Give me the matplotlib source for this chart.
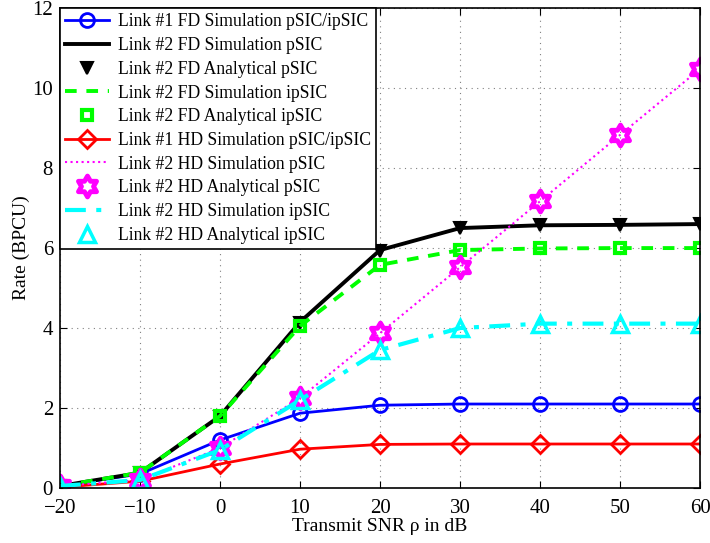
import numpy as np
import matplotlib
matplotlib.use('Agg')
import matplotlib.pyplot as plt
from matplotlib.path import Path

plt.rcParams['font.family'] = ['Liberation Serif', 'DejaVu Serif']

# Transmit SNR (dB)
snr = [-20, -10, 0, 10, 20, 30, 40, 50, 60]

# Rates in BPCU
link1_fd = [0.05, 0.35, 1.2, 1.87, 2.07, 2.1, 2.1, 2.1, 2.1]
link2_fd_psic_sim = [0.05, 0.38, 1.8, 4.15, 5.95, 6.5, 6.57, 6.58, 6.6]
link2_fd_psic_ana = [0.05, 0.38, 1.78, 4.12, 5.93, 6.5, 6.57, 6.58, 6.6]
link2_fd_ipsic_sim = [0.05, 0.38, 1.8, 4.05, 5.58, 5.95, 5.99, 6.0, 6.0]
link2_fd_ipsic_ana = [0.05, 0.38, 1.8, 4.05, 5.58, 5.95, 5.99, 6.0, 6.0]
link1_hd = [0.02, 0.17, 0.6, 0.97, 1.09, 1.1, 1.1, 1.1, 1.1]
link2_hd_psic_sim = [0.05, 0.2, 1.0, 2.25, 3.87, 5.52, 7.17, 8.83, 10.48]
link2_hd_psic_ana = [0.05, 0.2, 1.0, 2.25, 3.87, 5.52, 7.17, 8.83, 10.48]
link2_hd_ipsic_sim = [0.05, 0.2, 0.95, 2.2, 3.45, 4.0, 4.11, 4.11, 4.11]
link2_hd_ipsic_ana = [0.05, 0.2, 0.95, 2.2, 3.45, 4.0, 4.11, 4.11, 4.11]

# six-pointed star (MATLAB style hexagram)
ang = np.pi / 2 + np.arange(12) * np.pi / 6
rad = np.where(np.arange(12) % 2 == 0, 1.0, 1 / np.sqrt(3))
verts = np.column_stack([rad * np.cos(ang), rad * np.sin(ang)])
verts = np.vstack([verts, verts[:1]])
hexagram = Path(verts, [Path.MOVETO] + [Path.LINETO] * 11 + [Path.CLOSEPOLY])

fig = plt.figure(figsize=(7.1, 5.43), dpi=100)
ax = fig.add_axes([0.0845, 0.1013, 0.9015, 0.8837])

magenta = '#ff00ff'
cyan = '#00ffff'
green = '#00ff00'

ax.plot(snr, link1_fd, '-', color='blue', lw=2, marker='o', ms=10,
        mfc='none', mew=2, label='Link #1 FD Simulation pSIC/ipSIC')
ax.plot(snr, link2_fd_psic_sim, '-', color='black', lw=2.8,
        label='Link #2 FD Simulation pSIC')
ax.plot(snr, link2_fd_psic_ana, ls='none', color='black', marker='v', ms=9,
        mfc='black', mew=1.5, label='Link #2 FD Analytical pSIC')
ax.plot(snr, link2_fd_ipsic_sim, '--', color=green, lw=2.8, dashes=(3, 2.5),
        label='Link #2 FD Simulation ipSIC')
ax.plot(snr, link2_fd_ipsic_ana, ls='none', color=green, marker='s', ms=7,
        mfc='none', mew=3, label='Link #2 FD Analytical ipSIC')
ax.plot(snr, link1_hd, '-', color='red', lw=2, marker='D', ms=9,
        mfc='none', mew=2, label='Link #1 HD Simulation pSIC/ipSIC')
ax.plot(snr, link2_hd_psic_sim, ':', color=magenta, lw=1.5,
        label='Link #2 HD Simulation pSIC')
ax.plot(snr, link2_hd_psic_ana, ls='none', color=magenta, marker=hexagram,
        ms=15, mfc='none', mew=3.5, label='Link #2 HD Analytical pSIC')
ax.plot(snr, link2_hd_ipsic_sim, '-.', color=cyan, lw=3,
        dashes=(5, 2.5, 1.2, 2.5), label='Link #2 HD Simulation ipSIC')
ax.plot(snr, link2_hd_ipsic_ana, ls='none', color=cyan, marker='^', ms=12,
        mfc='none', mew=2.5, label='Link #2 HD Analytical ipSIC')

ax.set_xlim(-20, 60)
ax.set_ylim(0, 12)
ax.set_xticks(np.arange(-20, 61, 10))
ax.set_yticks(np.arange(0, 13, 2))
ax.set_xticklabels(['\u221220', '\u221210', '0', '10', '20', '30', '40', '50', '60'])
ax.tick_params(direction='in', top=True, right=True, labelsize=15, length=5)
ax.tick_params(axis='x', pad=8)
ax.tick_params(axis='y', pad=5)
ax.grid(True, ls=(0, (1, 4)), color='#808080', lw=0.8)
for s in ax.spines.values():
    s.set_linewidth(1.2)

ax.set_xlabel('Transmit SNR \u03c1 in dB', fontsize=14, labelpad=0)
ax.set_ylabel('Rate (BPCU)', fontsize=14, labelpad=2)

leg = ax.legend(loc='upper left', fontsize=12.7, fancybox=False,
                framealpha=1, edgecolor='black', borderaxespad=0,
                handlelength=2.5, labelspacing=0.38, borderpad=0.3,
                handletextpad=0.5)
leg.get_frame().set_linewidth(1.2)

plt.savefig('out.png', dpi=100)
